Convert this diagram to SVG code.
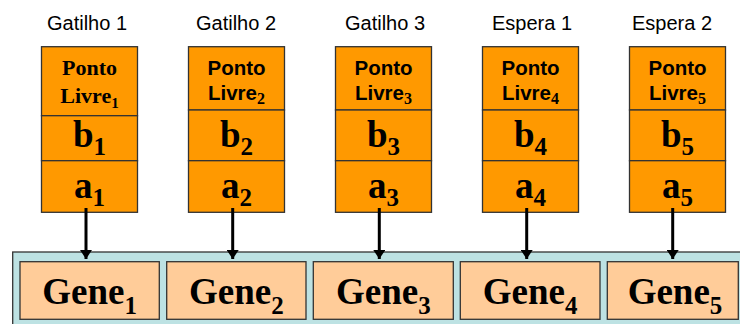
<svg xmlns="http://www.w3.org/2000/svg" width="740" height="324" viewBox="0 0 740 324">
<defs>
<style>
.lbl{font-family:"Liberation Sans",Arial,sans-serif;font-size:20px;fill:#000;text-anchor:middle}
.pl{font-family:"Liberation Sans",Arial,sans-serif;font-weight:bold;font-size:20.5px;fill:#000;text-anchor:middle}
.plt{font-family:"Liberation Serif","Times New Roman",serif;font-weight:bold;font-size:22px;fill:#000;text-anchor:middle}
.big{font-family:"Liberation Serif","Times New Roman",serif;font-weight:bold;font-size:37px;fill:#000;text-anchor:middle}
.gene{font-family:"Liberation Serif","Times New Roman",serif;font-weight:bold;font-size:37px;fill:#000;text-anchor:middle}
.sub{font-family:"Liberation Serif","Times New Roman",serif;font-weight:bold}
.cell{fill:#FF9900;stroke:#333;stroke-width:1.3}
.gbox{fill:#FFCC99;stroke:#333;stroke-width:1.3}
.panel{fill:#BDE2E3;stroke:#333;stroke-width:1.3}
.conn{stroke:#000;stroke-width:3;fill:none}
</style>
<marker id="ah" viewBox="0 0 9 12" refX="9" refY="6" markerWidth="9" markerHeight="12" orient="auto" markerUnits="userSpaceOnUse">
<path d="M0,0 L9,6 L0,12 Z" fill="#000"/>
</marker>
</defs>
<rect width="740" height="324" fill="#fff"/>

<g id="panel">
<rect class="panel" x="12.7" y="252" width="740" height="90"/>
</g>

<g id="gene1"><rect class="gbox" x="20" y="261.7" width="139.3" height="57.6"/><text class="gene" x="89.7" y="303.5">Gene<tspan class="sub" font-size="25" dy="10">1</tspan></text></g>
<g id="gene2"><rect class="gbox" x="166.7" y="261.7" width="139.3" height="57.6"/><text class="gene" x="236.3" y="303.5">Gene<tspan class="sub" font-size="25" dy="10">2</tspan></text></g>
<g id="gene3"><rect class="gbox" x="313.3" y="261.7" width="140" height="57.6"/><text class="gene" x="383.3" y="303.5">Gene<tspan class="sub" font-size="25" dy="10">3</tspan></text></g>
<g id="gene4"><rect class="gbox" x="460.3" y="261.7" width="139.7" height="57.6"/><text class="gene" x="530.2" y="303.5">Gene<tspan class="sub" font-size="25" dy="10">4</tspan></text></g>
<g id="gene5"><rect class="gbox" x="607.3" y="261.7" width="131" height="57.6"/><text class="gene" x="675" y="303.5">Gene<tspan class="sub" font-size="25" dy="10">5</tspan></text></g>

<g id="node1">
<text class="lbl" x="87" y="30">Gatilho 1</text>
<rect class="cell" x="41.5" y="46.7" width="96" height="69"/>
<rect class="cell" x="41.5" y="115.7" width="96" height="45"/>
<rect class="cell" x="41.5" y="160.7" width="96" height="51.6"/>
<text class="plt" x="89.5" y="75">Ponto</text>
<text class="plt" x="89.5" y="103">Livre<tspan font-size="15" dy="5">1</tspan></text>
<text class="big" x="89.5" y="146.7">b<tspan class="sub" font-size="25" dy="8">1</tspan></text>
<text class="big" x="89.5" y="198.3">a<tspan class="sub" font-size="25" dy="8">1</tspan></text>
</g>

<g id="node2">
<text class="lbl" x="236" y="30">Gatilho 2</text>
<rect class="cell" x="188.5" y="46.7" width="96" height="63.3"/>
<rect class="cell" x="188.5" y="110" width="96" height="50.7"/>
<rect class="cell" x="188.5" y="160.7" width="96" height="51.6"/>
<text class="pl" x="236.5" y="75">Ponto</text>
<text class="pl" x="236.5" y="100">Livre<tspan class="sub" font-size="16" dy="4">2</tspan></text>
<text class="big" x="236.5" y="146.7">b<tspan class="sub" font-size="25" dy="8">2</tspan></text>
<text class="big" x="236.5" y="198.3">a<tspan class="sub" font-size="25" dy="8">2</tspan></text>
</g>

<g id="node3">
<text class="lbl" x="385" y="30">Gatilho 3</text>
<rect class="cell" x="335.5" y="46.7" width="96" height="63.3"/>
<rect class="cell" x="335.5" y="110" width="96" height="50.7"/>
<rect class="cell" x="335.5" y="160.7" width="96" height="51.6"/>
<text class="pl" x="383.5" y="75">Ponto</text>
<text class="pl" x="383.5" y="100">Livre<tspan class="sub" font-size="16" dy="4">3</tspan></text>
<text class="big" x="383.5" y="146.7">b<tspan class="sub" font-size="25" dy="8">3</tspan></text>
<text class="big" x="383.5" y="198.3">a<tspan class="sub" font-size="25" dy="8">3</tspan></text>
</g>

<g id="node4">
<text class="lbl" x="532" y="30">Espera 1</text>
<rect class="cell" x="482.5" y="46.7" width="96" height="63.3"/>
<rect class="cell" x="482.5" y="110" width="96" height="50.7"/>
<rect class="cell" x="482.5" y="160.7" width="96" height="51.6"/>
<text class="pl" x="530.5" y="75">Ponto</text>
<text class="pl" x="530.5" y="100">Livre<tspan class="sub" font-size="16" dy="4">4</tspan></text>
<text class="big" x="530.5" y="146.7">b<tspan class="sub" font-size="25" dy="8">4</tspan></text>
<text class="big" x="530.5" y="198.3">a<tspan class="sub" font-size="25" dy="8">4</tspan></text>
</g>

<g id="node5">
<text class="lbl" x="672" y="30">Espera 2</text>
<rect class="cell" x="629.5" y="46.7" width="96" height="63.3"/>
<rect class="cell" x="629.5" y="110" width="96" height="50.7"/>
<rect class="cell" x="629.5" y="160.7" width="96" height="51.6"/>
<text class="pl" x="677.5" y="75">Ponto</text>
<text class="pl" x="677.5" y="100">Livre<tspan class="sub" font-size="16" dy="4">5</tspan></text>
<text class="big" x="677.5" y="146.7">b<tspan class="sub" font-size="25" dy="8">5</tspan></text>
<text class="big" x="677.5" y="198.3">a<tspan class="sub" font-size="25" dy="8">5</tspan></text>
</g>

<g id="connectors">
<line class="conn" x1="86" y1="208" x2="86" y2="259" marker-end="url(#ah)"/>
<line class="conn" x1="232.7" y1="208" x2="232.7" y2="259" marker-end="url(#ah)"/>
<line class="conn" x1="379.3" y1="208" x2="379.3" y2="259" marker-end="url(#ah)"/>
<line class="conn" x1="526.7" y1="208" x2="526.7" y2="259" marker-end="url(#ah)"/>
<line class="conn" x1="672.7" y1="208" x2="672.7" y2="259" marker-end="url(#ah)"/>
</g>
</svg>
